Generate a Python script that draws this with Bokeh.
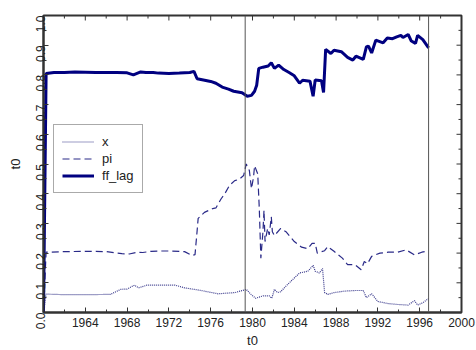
import math
from bokeh.plotting import figure
from bokeh.models import (FixedTicker, Span, Legend, LegendItem,
                          PrintfTickFormatter, Range1d)
from bokeh.embed import file_html
from bokeh.resources import INLINE

# ---- data ----
ff_t = [1960.0, 1960.25, 1961, 1962, 1963, 1964, 1965, 1966, 1967, 1968, 1968.6, 1969.3,
        1969.8, 1970.5, 1971, 1972, 1973, 1974.0, 1974.4, 1974.7, 1975.3, 1976, 1976.5,
        1977.1, 1977.7, 1978.2, 1979.0, 1979.5, 1979.9, 1980.2, 1980.4, 1980.6, 1981.0,
        1981.5, 1981.8, 1982.1, 1982.5, 1983.0, 1983.5, 1984.0, 1984.5, 1984.8, 1985.5,
        1985.8, 1986.0, 1986.6, 1986.8, 1987.0, 1987.5, 1987.8, 1988.5, 1989.1, 1989.6,
        1989.9, 1990.6, 1990.9, 1991.1, 1991.4, 1991.8, 1992.5, 1992.9, 1993.4, 1993.8,
        1994.2, 1994.4, 1994.9, 1995.2, 1995.6, 1995.8, 1996.3, 1996.85]
ff_lag = [0.0, 0.805, 0.808, 0.808, 0.810, 0.809, 0.808, 0.808, 0.808, 0.807, 0.800, 0.810,
          0.808, 0.808, 0.806, 0.805, 0.806, 0.808, 0.812, 0.787, 0.783, 0.778, 0.772,
          0.759, 0.752, 0.745, 0.740, 0.728, 0.731, 0.745, 0.765, 0.822, 0.826,
          0.830, 0.841, 0.822, 0.833, 0.818, 0.808, 0.797, 0.772, 0.782, 0.779,
          0.728, 0.783, 0.780, 0.741, 0.886, 0.872, 0.883, 0.878, 0.859, 0.850,
          0.863, 0.852, 0.894, 0.897, 0.874, 0.917, 0.908, 0.924, 0.922, 0.928,
          0.933, 0.926, 0.936, 0.914, 0.906, 0.933, 0.919, 0.891]

pi_t = [1960.0, 1960.25, 1962, 1964, 1966, 1967.5, 1968.2, 1969, 1969.5, 1970.3, 1971,
        1972.2, 1973.5, 1974.2, 1974.5, 1974.7, 1974.8, 1975.4, 1976.2, 1976.5, 1977.0,
        1977.3, 1977.8, 1978.3, 1978.7, 1979.15, 1979.4, 1979.7, 1979.9, 1980.1, 1980.2,
        1980.5, 1980.65, 1980.8, 1981.0, 1981.1, 1981.2, 1981.45, 1981.6, 1981.8, 1981.9,
        1982.1, 1982.7, 1983.2, 1984.0, 1984.7, 1985.3, 1985.7, 1986.0, 1986.2, 1986.9,
        1987.2, 1987.8, 1988.6, 1989.1, 1989.8, 1990.4, 1990.7, 1991.0, 1991.4, 1992.2,
        1993.0, 1993.9, 1994.7, 1995.5, 1996.2, 1996.85]
pi = [0.0, 0.203, 0.205, 0.206, 0.205, 0.198, 0.197, 0.203, 0.202, 0.206, 0.207,
      0.207, 0.205, 0.192, 0.195, 0.275, 0.317, 0.337, 0.350, 0.352, 0.383,
      0.397, 0.428, 0.444, 0.448, 0.461, 0.500, 0.478, 0.417, 0.456, 0.494,
      0.467, 0.350, 0.183, 0.272, 0.344, 0.239, 0.283, 0.261, 0.322, 0.272,
      0.259, 0.283, 0.272, 0.239, 0.220, 0.215, 0.233, 0.233, 0.200, 0.208,
      0.222, 0.206, 0.183, 0.161, 0.161, 0.144, 0.172, 0.164, 0.189, 0.200,
      0.203, 0.203, 0.211, 0.194, 0.203, 0.208]

x_t = [1960.0, 1960.25, 1962, 1964, 1966.4, 1967.4, 1968.0, 1968.7, 1969.1, 1969.9, 1971,
       1972.6, 1973.5, 1975.1, 1976.7, 1978.3, 1979.05, 1979.4, 1979.85, 1980.3, 1981.0,
       1981.6, 1981.85, 1982.1, 1982.4, 1982.7, 1983.2, 1983.7, 1984.5, 1985.3, 1985.8,
       1986.0, 1986.4, 1986.7, 1986.9, 1987.2, 1987.8, 1988.8, 1989.8, 1990.6, 1990.9,
       1991.4, 1992.0, 1993.0, 1993.9, 1994.9, 1995.5, 1995.8, 1996.3, 1996.85]
x_gap = [0.0, 0.062, 0.060, 0.060, 0.061, 0.078, 0.079, 0.092, 0.083, 0.092, 0.092,
         0.092, 0.083, 0.074, 0.063, 0.067, 0.074, 0.078, 0.061, 0.048, 0.056,
         0.056, 0.048, 0.078, 0.067, 0.070, 0.089, 0.106, 0.133, 0.139, 0.159,
         0.139, 0.133, 0.148, 0.067, 0.061, 0.067, 0.072, 0.074, 0.074, 0.050,
         0.063, 0.037, 0.030, 0.027, 0.025, 0.040, 0.025, 0.033, 0.047]

break_dates = [1979.3, 1996.85]

x_major = [1964, 1968, 1972, 1976, 1980, 1984, 1988, 1992, 1996, 2000]
x_minor = [1962, 1966, 1970, 1974, 1978, 1982, 1986, 1990, 1994, 1998]
y_major = [0.0, 0.1, 0.2, 0.3, 0.4, 0.5, 0.6, 0.7, 0.8, 0.9, 1.0]
y_minor = [0.05, 0.15, 0.25, 0.35, 0.45, 0.55, 0.65, 0.75, 0.85, 0.95]

FONT = "Liberation Sans"
AX = "#333333"
TXT = "#222222"

xr = Range1d(1960, 2000)
yr = Range1d(0, 1.0)
p = figure(width=476, height=350, output_backend="svg", toolbar_location=None,
           x_range=xr, y_range=yr,
           x_axis_label="t0", y_axis_label="t0",
           min_border_left=43, min_border_right=15, min_border_top=15, min_border_bottom=35)
p.xgrid.visible = False
p.ygrid.visible = False
p.outline_line_color = AX
p.outline_line_width = 2
p.background_fill_color = "white"
p.border_fill_color = "white"

xt = FixedTicker(ticks=x_major, minor_ticks=x_minor)
yt = FixedTicker(ticks=y_major, minor_ticks=y_minor)

def style(ax):
    ax.axis_line_color = AX
    ax.axis_line_width = 2
    ax.major_tick_in = 5
    ax.major_tick_out = 0
    ax.minor_tick_in = 3
    ax.minor_tick_out = 0
    ax.major_tick_line_color = AX
    ax.minor_tick_line_color = AX
    ax.major_tick_line_width = 1
    ax.minor_tick_line_width = 1
    ax.major_label_text_font = FONT
    ax.major_label_text_color = TXT
    ax.major_label_text_font_size = "12px"
    ax.axis_label_text_font = FONT
    ax.axis_label_text_font_style = "normal"
    ax.axis_label_text_font_size = "13px"
    ax.axis_label_text_color = TXT

xa = p.xaxis[0]
xa.ticker = xt
style(xa)
xa.major_label_standoff = 5
xa.axis_label_standoff = 3

ya = p.yaxis[0]
ya.ticker = yt
ya.formatter = PrintfTickFormatter(format="%.1f")
style(ya)
ya.major_label_orientation = math.pi / 2
ya.major_label_standoff = 3
ya.axis_label_standoff = 6

# inward ticks on the top and right frame edges (half of each dash is clipped by the frame)
p.scatter(x_major, [yr.end] * len(x_major), marker="dash", angle=math.pi / 2,
          size=10, line_color=AX, line_width=1)
p.scatter(x_minor, [yr.end] * len(x_minor), marker="dash", angle=math.pi / 2,
          size=6, line_color=AX, line_width=1)
p.scatter([xr.end] * len(y_major), y_major, marker="dash",
          size=10, line_color=AX, line_width=1)
p.scatter([xr.end] * len(y_minor), y_minor, marker="dash",
          size=6, line_color=AX, line_width=1)

r_x = p.line(x_t, x_gap, line_color="#3a3a8c", line_width=1.2, line_dash="1 1")
r_pi = p.line(pi_t, pi, line_color="#2a2a88", line_width=1.2, line_dash="7 4")
r_ff = p.line(ff_t, ff_lag, line_color="#000080", line_width=3)

for d in break_dates:
    p.add_layout(Span(location=d, dimension="height", line_color="#555555", line_width=1))

legend = Legend(items=[LegendItem(label="x", renderers=[r_x]),
                       LegendItem(label="pi", renderers=[r_pi]),
                       LegendItem(label="ff_lag", renderers=[r_ff])],
                location=(10, 119), orientation="vertical",
                glyph_width=32, glyph_height=17, label_height=17, label_standoff=8,
                padding=8, spacing=0, margin=0,
                label_text_font=FONT, label_text_font_size="13px", label_text_color=TXT,
                border_line_color="#555555", border_line_width=1,
                background_fill_color="white", background_fill_alpha=1.0)
p.add_layout(legend, "center")

open("out.html", "w").write(file_html(p, INLINE))
